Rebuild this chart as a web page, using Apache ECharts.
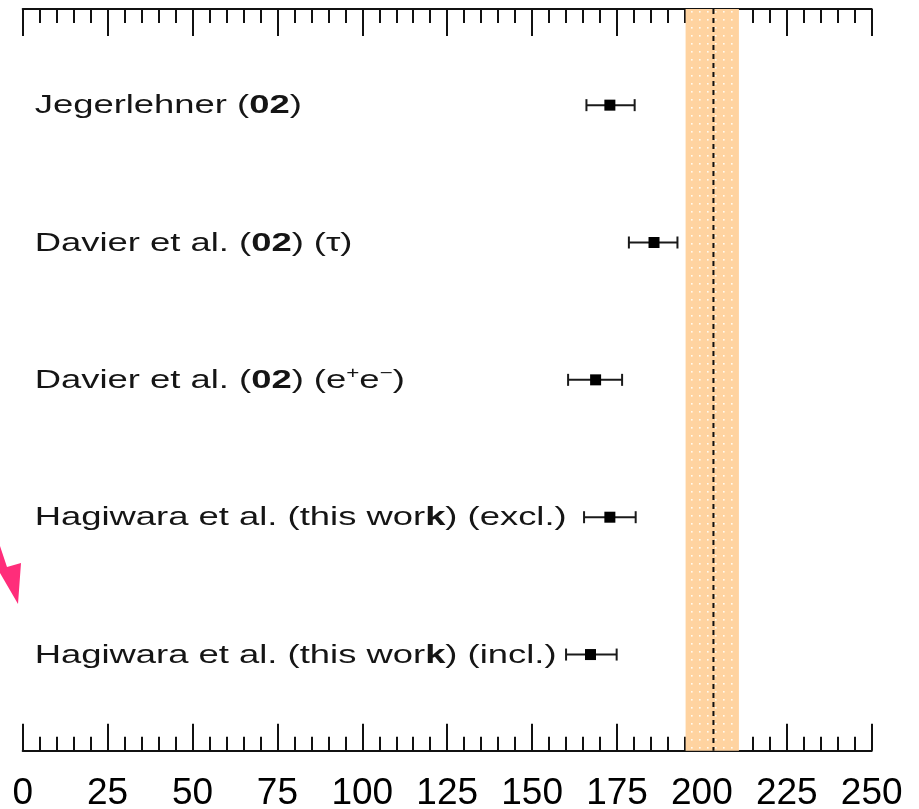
<!DOCTYPE html>
<html>
<head>
<meta charset="utf-8">
<script src="https://cdn.jsdelivr.net/npm/echarts@6/dist/echarts.min.js"></script>
<style>html,body{margin:0;padding:0;background:#fff;}#c{width:919px;height:809px;}</style>
</head>
<body>
<div id="c"></div>
<script>
// ---- data ----
var labels = [
  "Jegerlehner ({b|02})",
  "Davier et al. ({b|02}) (τ)",
  "Davier et al. ({b|02}) (e{sup|+}e{sup|−})",
  "Hagiwara et al. (this wor{b|k}) (excl.)",
  "Hagiwara et al. (this wor{b|k}) (incl.)"
];
var rowIndex = [1, 2, 3, 4, 5];
var centers = [172.9, 185.9, 168.7, 172.9, 167.2];
var lowEnds = [166.0, 178.5, 160.6, 165.3, 160.0];
var highEnds = [180.2, 192.8, 176.5, 180.5, 174.9];
var bandRange = [195.2, 210.9];
var refLine = [203.4];
var xTicks = [0, 25, 50, 75, 100, 125, 150, 175, 200, 225, 250];

// dotted pattern for band
var pat = document.createElement('canvas');
pat.width = 8; pat.height = 8;
var pc = pat.getContext('2d');
pc.fillStyle = '#ffd3a0';
pc.fillRect(0, 0, 8, 8);
pc.fillStyle = 'rgba(255,250,240,1)';
pc.fillRect(3, 3, 1.6, 1.6);

var chart = echarts.init(document.getElementById('c'), null, {renderer: 'canvas'});

var errData = rowIndex.map(function (r, i) { return [centers[i], r, lowEnds[i], highEnds[i]]; });
var labelData = rowIndex.map(function (r, i) { return [0, r, i]; });

var FONT = '"Liberation Sans", Arial, sans-serif';

var axisCommon = {
  type: 'value', min: xTicks[0], max: xTicks[xTicks.length - 1], interval: 25,
  axisLine: {show: true, lineStyle: {color: '#111', width: 2}},
  axisTick: {show: true, inside: true, length: 27, lineStyle: {color: '#111', width: 2}},
  minorTick: {show: true, splitNumber: 5, length: 14, lineStyle: {color: '#111', width: 2}},
  splitLine: {show: false}, minorSplitLine: {show: false}
};

chart.setOption({
  animation: false,
  backgroundColor: '#ffffff',
  grid: {left: 22.7, right: 47.3, top: 9, bottom: 58.3, containLabel: false, outerBoundsMode: 'none'},
  xAxis: [
    Object.assign({}, axisCommon, {
      position: 'bottom',
      axisLabel: {show: true, margin: 25, fontSize: 37, color: '#000',
        fontFamily: FONT,
        formatter: function (v) { return xTicks.indexOf(v) >= 0 ? String(v) : ''; }}
    }),
    Object.assign({}, axisCommon, {position: 'top', axisLabel: {show: false}})
  ],
  yAxis: {
    type: 'value', min: 0.3, max: 5.7, inverse: true,
    axisLine: {show: false}, axisTick: {show: false}, axisLabel: {show: false}, splitLine: {show: false}
  },
  series: [
    {
      type: 'custom', z: 1, silent: true,
      data: [[bandRange[0], bandRange[1]]],
      renderItem: function (params, api) {
        var cs = params.coordSys;
        var x0 = api.coord([api.value(0), 1])[0];
        var x1 = api.coord([api.value(1), 1])[0];
        return {type: 'rect', shape: {x: x0, y: cs.y, width: x1 - x0, height: cs.height},
          style: {fill: {image: pat, repeat: 'repeat'}}};
      }
    },
    {
      type: 'custom', z: 5, silent: true,
      data: [refLine],
      renderItem: function (params, api) {
        var cs = params.coordSys;
        var x = api.coord([api.value(0), 1])[0];
        return {type: 'line', shape: {x1: x, y1: cs.y, x2: x, y2: cs.y + cs.height},
          style: {stroke: '#111', lineWidth: 2, lineDash: [5, 4]}};
      }
    },
    {
      type: 'custom', z: 6, silent: true,
      data: errData,
      renderItem: function (params, api) {
        var c = api.coord([api.value(0), api.value(1)]);
        var l = api.coord([api.value(2), api.value(1)]);
        var h = api.coord([api.value(3), api.value(1)]);
        var st = {stroke: '#1a1a1a', lineWidth: 2};
        return {type: 'group', children: [
          {type: 'line', shape: {x1: l[0], y1: c[1], x2: h[0], y2: c[1]}, style: st},
          {type: 'line', shape: {x1: l[0], y1: c[1] - 6, x2: l[0], y2: c[1] + 6}, style: st},
          {type: 'line', shape: {x1: h[0], y1: c[1] - 6, x2: h[0], y2: c[1] + 6}, style: st},
          {type: 'rect', shape: {x: c[0] - 5.5, y: c[1] - 5.5, width: 11, height: 11}, style: {fill: '#000'}}
        ]};
      }
    },
    {
      type: 'custom', z: 6, silent: true,
      data: labelData,
      renderItem: function (params, api) {
        var p = api.coord([api.value(0), api.value(1)]);
        return {type: 'text', x: p[0] + 12, y: p[1] + 1, scaleX: 1.4,
          style: {text: labels[api.value(2)], fill: '#151515', fontSize: 26,
            fontFamily: FONT,
            verticalAlign: 'middle', align: 'left',
            rich: {
              b: {fontSize: 26, fontWeight: 'bold', fontFamily: FONT, fill: '#151515'},
              sup: {fontSize: 16, fontFamily: FONT, fill: '#151515', verticalAlign: 'top', padding: [0, 0, 14, 0]}
            }}};
      }
    }
  ],
  graphic: [{
    type: 'polygon', z: 100,
    shape: {points: [[0, 546], [7, 567], [21, 563], [18, 604], [0, 573]]},
    style: {fill: '#ff2d7a'}
  }]
});
</script>
</body>
</html>
